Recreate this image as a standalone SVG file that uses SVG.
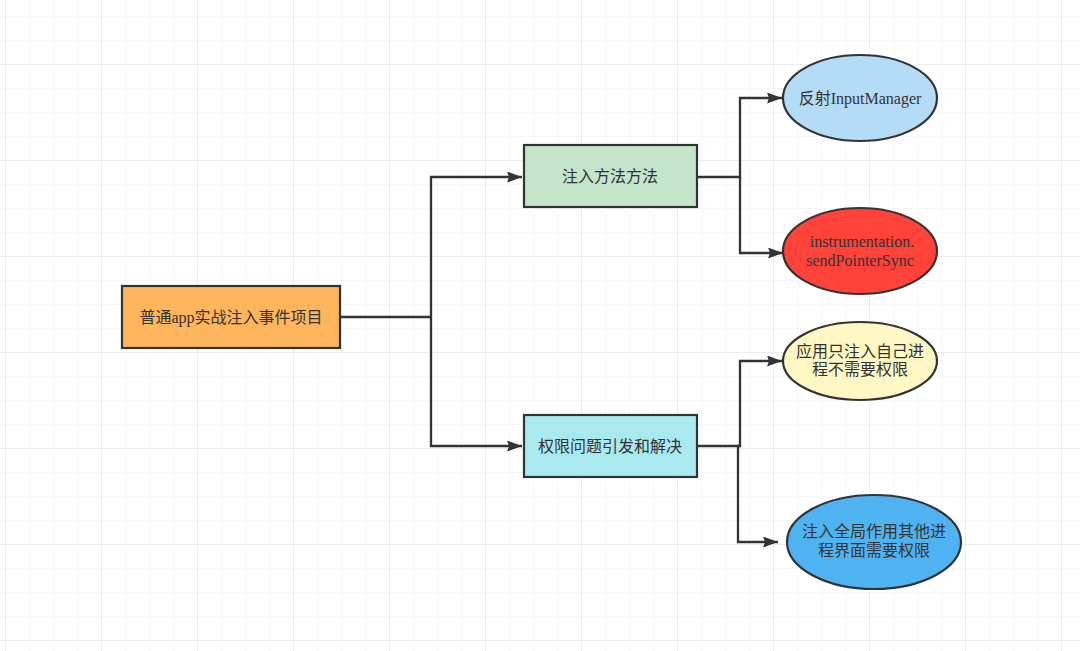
<svg xmlns="http://www.w3.org/2000/svg" width="1080" height="651" viewBox="0 0 1080 651">
<defs>
<pattern id="minor" x="5" y="16" width="24" height="24" patternUnits="userSpaceOnUse">
<path d="M0 0V24M0 0H24" fill="none" stroke="#efefef" stroke-width="1"/>
</pattern>
<pattern id="major" x="5" y="64" width="96" height="96" patternUnits="userSpaceOnUse">
<path d="M0 0V96M0 0H96" fill="none" stroke="#e2e2e2" stroke-width="1"/>
</pattern>
<marker id="arr" viewBox="0 0 15 11" refX="15" refY="5.5" markerWidth="15" markerHeight="11" markerUnits="userSpaceOnUse" orient="auto">
<path d="M0 0L15 5.5L0 11L2 5.5Z" fill="#333"/>
</marker>
<style>
.n{stroke:#333;stroke-width:2.2}
.t{font-family:"Liberation Serif","Noto Sans CJK SC",serif;font-size:16px;fill:#333;text-anchor:middle;dominant-baseline:central}
.c{fill:none;stroke:#333;stroke-width:2.3}
</style>
</defs>
<rect width="1080" height="651" fill="#fff"/>
<rect width="1080" height="651" fill="url(#minor)"/>
<rect width="1080" height="651" fill="url(#major)"/>
<g id="connectors">
<path class="c" d="M340 317H431V177H522" marker-end="url(#arr)"/>
<path class="c" d="M431 317V446H522" marker-end="url(#arr)"/>
<path class="c" d="M697 177H740V98H782" marker-end="url(#arr)"/>
<path class="c" d="M740 177V253H783" marker-end="url(#arr)"/>
<path class="c" d="M697 446H740V361H782" marker-end="url(#arr)"/>
<path class="c" d="M740 446H738V542H778" marker-end="url(#arr)"/>
</g>
<g id="root">
<rect class="n" x="122" y="286" width="218" height="62" fill="#FFB55B"/>
<text class="t" x="231" y="317">普通app实战注入事件项目</text>
</g>
<g id="method">
<rect class="n" x="524" y="145" width="173" height="62" fill="#C5E5CB"/>
<text class="t" x="610" y="176">注入方法方法</text>
</g>
<g id="permission">
<rect class="n" x="524" y="415" width="173" height="62" fill="#A9EAF0"/>
<text class="t" x="610" y="446">权限问题引发和解决</text>
</g>
<g id="reflect">
<ellipse class="n" cx="860" cy="98" rx="77" ry="43" fill="#B5DCF7"/>
<text class="t" x="860" y="98">反射InputManager</text>
</g>
<g id="instrumentation">
<ellipse class="n" cx="860" cy="251" rx="77" ry="43" fill="#FF423A"/>
<text class="t" x="862" y="241">instrumentation.</text>
<text class="t" x="860" y="260">sendPointerSync</text>
</g>
<g id="own">
<ellipse class="n" cx="860" cy="361" rx="77" ry="39" fill="#FFF8C5"/>
<text class="t" x="860" y="351">应用只注入自己进</text>
<text class="t" x="860" y="369">程不需要权限</text>
</g>
<g id="global">
<ellipse class="n" cx="874" cy="542" rx="87" ry="47" fill="#4FB3F2"/>
<text class="t" x="874" y="531">注入全局作用其他进</text>
<text class="t" x="874" y="550">程界面需要权限</text>
</g>
</svg>
